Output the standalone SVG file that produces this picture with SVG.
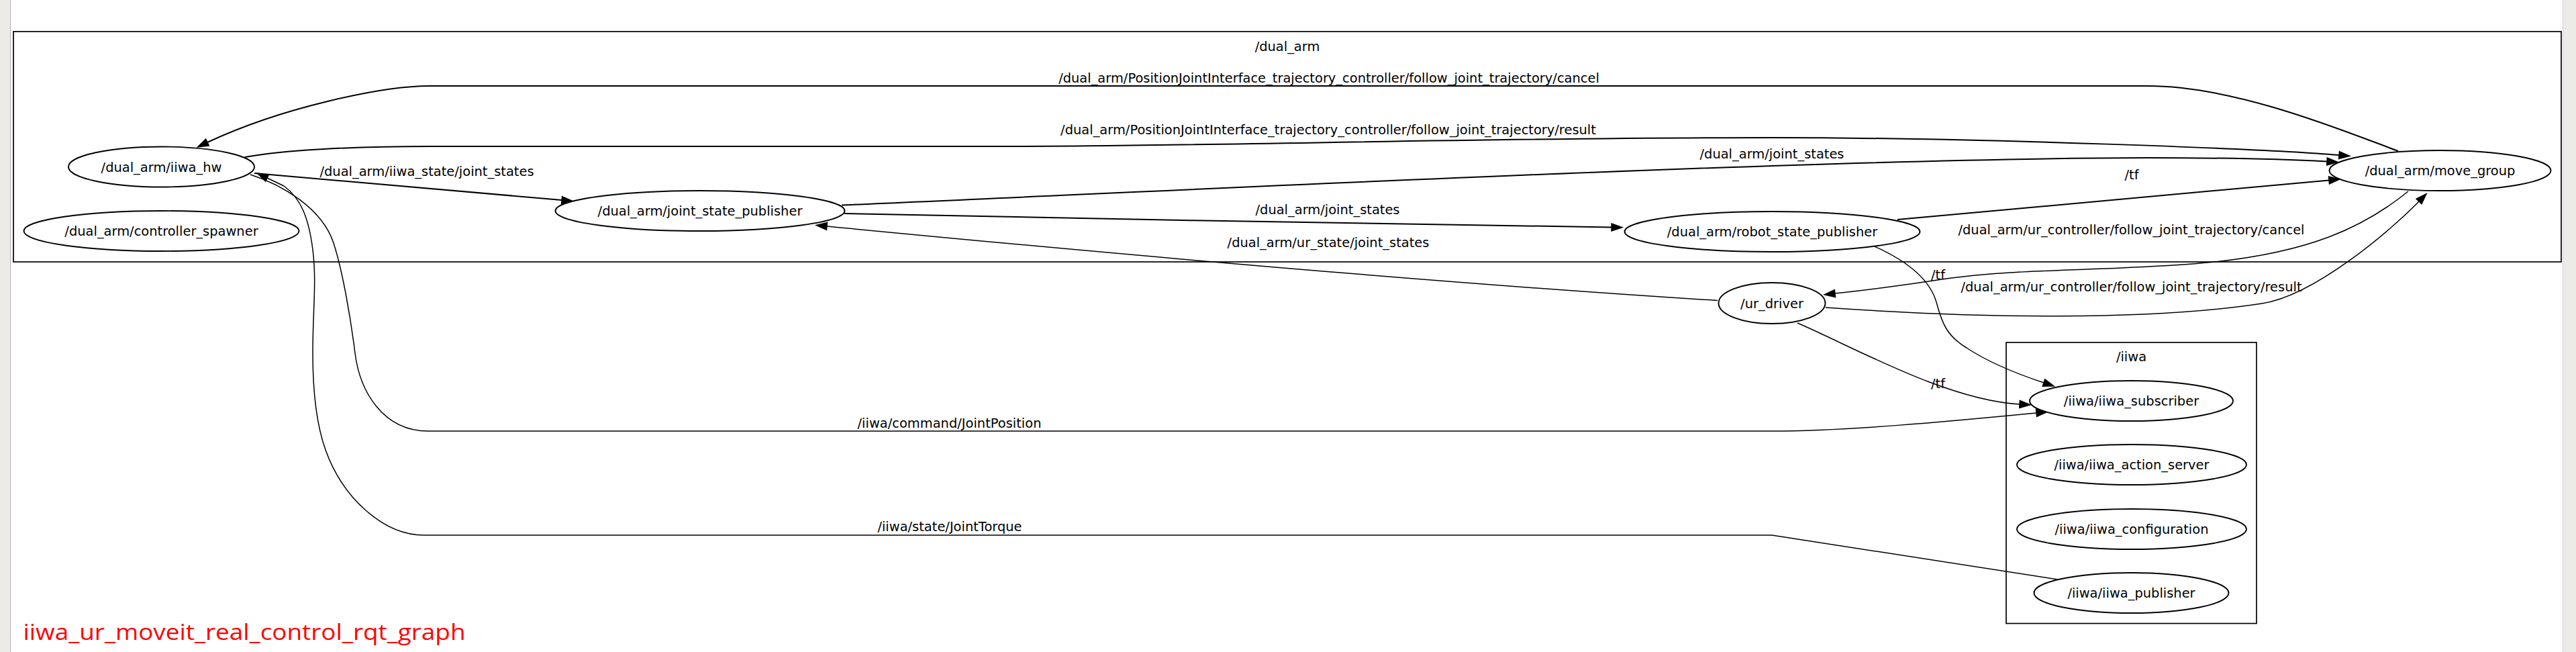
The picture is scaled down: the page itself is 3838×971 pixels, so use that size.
<svg xmlns="http://www.w3.org/2000/svg" width="3838" height="971" viewBox="0 0 3838 971">
<style>
text{font-family:"DejaVu Sans","Liberation Sans",sans-serif;font-size:19.44px;fill:#000}
.c{text-anchor:middle}
.cl{fill:none;stroke:#000;stroke-width:1.7}
.n ellipse{fill:#fff;stroke:#000;stroke-width:1.9}
.e{fill:none;stroke:#000;stroke-width:2}
.t{fill:none;stroke:#000;stroke-width:1.5}
.ah{marker-end:url(#arr)}
</style>
<defs>
<marker id="arr" markerUnits="userSpaceOnUse" viewBox="-2 -8 22 16" refX="0" refY="0" markerWidth="22" markerHeight="16" orient="auto" overflow="visible">
<path d="M0,-5.5 L16,0 L0,5.5 z" fill="#000" stroke="#000" stroke-width="1.4"/>
</marker>
</defs>
<rect x="0" y="0" width="3838" height="971" fill="#fff"/>
<rect x="0" y="0" width="15" height="971" fill="#edebe7"/>
<line x1="15.5" y1="0" x2="15.5" y2="971" stroke="#b4b2ae" stroke-width="1"/>
<rect x="3818" y="0" width="20" height="971" fill="#edebe7"/>
<line x1="3818.5" y1="0" x2="3818.5" y2="971" stroke="#d4d2ce" stroke-width="1"/>

<g id="cluster_dual_arm">
<rect class="cl" x="20" y="47" width="3796" height="343"/>
<text class="c" x="1918" y="76">/dual_arm</text>
</g>
<g id="cluster_iiwa">
<rect class="cl" x="2989" y="510" width="373" height="418.5"/>
<text class="c" x="3175.5" y="538">/iiwa</text>
</g>

<g id="connectors">
<g id="e_cancel">
<path class="e ah" d="M3573,225 C3490,194 3330,128 3200,128 L640,128 C570,128 420,160 309,212"/>
<text class="c" x="1980" y="123">/dual_arm/PositionJointInterface_trajectory_controller/follow_joint_trajectory/cancel</text>
</g>
<g id="e_result">
<path class="e ah" d="M365,234 C420,224 520,218 640,218 L1500,218 C1800,218 2200,205 2640,205 C2950,205 3380,222 3485,231"/>
<text class="c" x="1979" y="200">/dual_arm/PositionJointInterface_trajectory_controller/follow_joint_trajectory/result</text>
</g>
<g id="e_iiwa_state">
<path class="e ah" d="M379,258 L837,298"/>
<text class="c" x="636" y="262">/dual_arm/iiwa_state/joint_states</text>
</g>
<g id="e_js_mg">
<path class="e ah" d="M1254,305.5 C1800,282 2700,236 3200,235 C3320,235 3400,237 3467,240.5"/>
<text class="c" x="2640" y="236">/dual_arm/joint_states</text>
</g>
<g id="e_js_rsp">
<path class="e ah" d="M1258,318 C1600,325 2100,335 2401,338.5"/>
<text class="c" x="1978" y="319">/dual_arm/joint_states</text>
</g>
<g id="e_ur_state">
<path class="t ah" d="M2559,447.5 C2200,425 1780,390 1232,337"/>
<text class="c" x="1979" y="368">/dual_arm/ur_state/joint_states</text>
</g>
<g id="e_tf_rsp_mg">
<path class="e ah" d="M2827,327 L3470,268.5"/>
<text class="c" x="3176" y="267">/tf</text>
</g>
<g id="e_ur_cancel">
<path class="t ah" d="M3588,285 C3520,340 3440,375 3300,390 C3150,405 3000,398 2880,418 C2800,430 2770,433 2734,437"/>
<text class="c" x="3175.5" y="349">/dual_arm/ur_controller/follow_joint_trajectory/cancel</text>
</g>
<g id="e_ur_result">
<path class="t ah" d="M2720,458 C2950,474 3200,478 3370,452 C3449,440 3562,343 3604,300"/>
<text class="c" x="3175.5" y="434">/dual_arm/ur_controller/follow_joint_trajectory/result</text>
</g>
<g id="e_tf_rsp_sub">
<path class="t ah" d="M2793,367 C2840,388 2875,415 2885,450 C2893,480 2900,500 2930,518 C2960,538 3000,555 3045,570"/>
<text class="c" x="2887.5" y="415.5">/tf</text>
</g>
<g id="e_tf_ur_sub">
<path class="t ah" d="M2678,481 C2760,516 2900,596 3009,602"/>
<text class="c" x="2887.5" y="578">/tf</text>
</g>
<g id="e_joint_position">
<path class="t ah" d="M373,260 C420,275 480,310 497,362 C510,402 522,470 529,526 C536,582 570,642 638,642 L2638,642 C2750,642 2900,628 3034,615"/>
<text class="c" x="1414.5" y="637">/iiwa/command/JointPosition</text>
</g>
<g id="e_joint_torque">
<path class="t ah" d="M3066,863 L2640,797 L632,797 C570,797 510,740 485,670 C475,642 466,600 466,526 C466,460 472,420 466,372 C460,324 448,295 423,277 L398,265"/>
<text class="c" x="1415" y="791">/iiwa/state/JointTorque</text>
</g>
</g>

<g id="n_iiwa_hw" class="n"><ellipse cx="240.5" cy="248.5" rx="138.5" ry="30"/><text class="c" x="240.5" y="255.5">/dual_arm/iiwa_hw</text></g>
<g id="n_controller_spawner" class="n"><ellipse cx="240.5" cy="344" rx="205" ry="30"/><text class="c" x="240.5" y="351">/dual_arm/controller_spawner</text></g>
<g id="n_joint_state_publisher" class="n"><ellipse cx="1043" cy="314" rx="215.5" ry="30"/><text class="c" x="1043" y="321">/dual_arm/joint_state_publisher</text></g>
<g id="n_robot_state_publisher" class="n"><ellipse cx="2640.5" cy="345" rx="220" ry="30"/><text class="c" x="2640.5" y="352">/dual_arm/robot_state_publisher</text></g>
<g id="n_move_group" class="n"><ellipse cx="3635.5" cy="254" rx="165" ry="30"/><text class="c" x="3635.5" y="261">/dual_arm/move_group</text></g>
<g id="n_ur_driver" class="n"><ellipse cx="2640" cy="451.5" rx="79.5" ry="30.5"/><text class="c" x="2640" y="458.5">/ur_driver</text></g>
<g id="n_iiwa_subscriber" class="n"><ellipse cx="3175.5" cy="597" rx="151.5" ry="30"/><text class="c" x="3175.5" y="604">/iiwa/iiwa_subscriber</text></g>
<g id="n_iiwa_action_server" class="n"><ellipse cx="3176" cy="692" rx="171" ry="30"/><text class="c" x="3176" y="699">/iiwa/iiwa_action_server</text></g>
<g id="n_iiwa_configuration" class="n"><ellipse cx="3176" cy="788" rx="171" ry="30"/><text class="c" x="3176" y="795">/iiwa/iiwa_configuration</text></g>
<g id="n_iiwa_publisher" class="n"><ellipse cx="3175.5" cy="883" rx="145" ry="30"/><text class="c" x="3175.5" y="890">/iiwa/iiwa_publisher</text></g>

<text x="34.5" y="952.5" style="font-family:'Open Sans','Noto Sans','DejaVu Sans',sans-serif;font-size:33px;fill:#ff0000" textLength="659" lengthAdjust="spacingAndGlyphs">iiwa_ur_moveit_real_control_rqt_graph</text>
</svg>
